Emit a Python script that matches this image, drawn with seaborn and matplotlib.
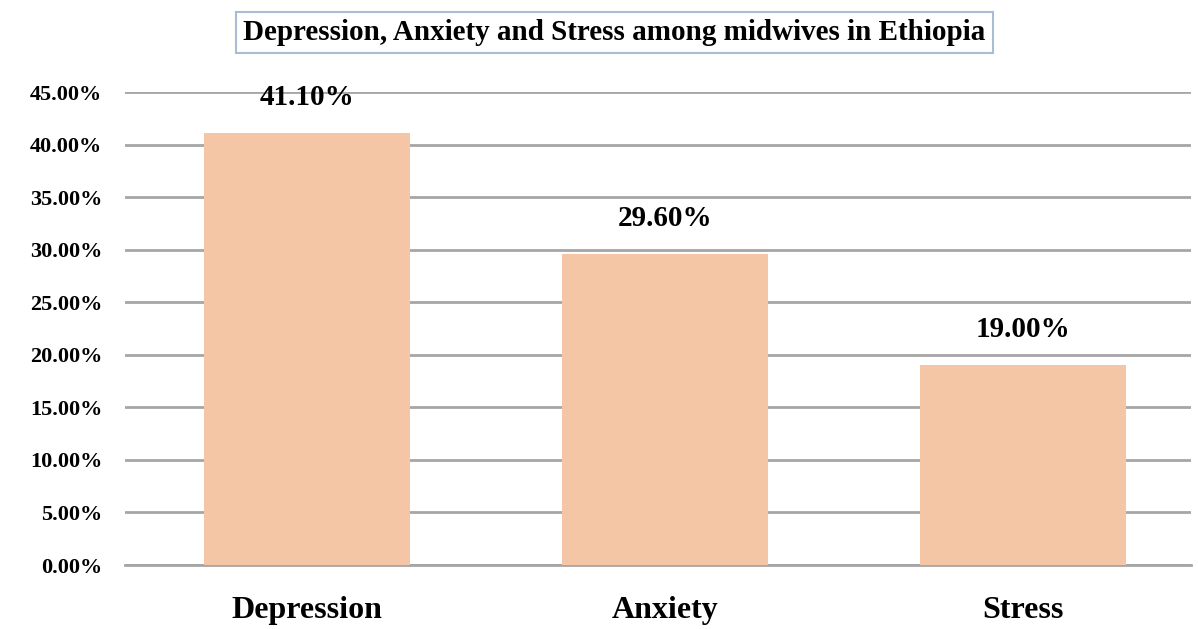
import matplotlib
matplotlib.use("Agg")
import matplotlib.pyplot as plt
import seaborn as sns
import pandas as pd
from matplotlib.ticker import PercentFormatter

# data
categories = ["Depression", "Anxiety", "Stress"]
prevalence = [41.10, 29.60, 19.00]
y_ticks = [0, 5, 10, 15, 20, 25, 30, 35, 40, 45]

df = pd.DataFrame({"Condition": categories, "Prevalence": prevalence})

sns.set_style("white")
plt.rcParams["font.family"] = ["Liberation Serif", "DejaVu Serif"]
plt.rcParams["font.weight"] = "bold"
plt.rcParams["text.color"] = "black"
plt.rcParams["xtick.color"] = "black"
plt.rcParams["ytick.color"] = "black"

fig = plt.figure(figsize=(11.98, 6.29), dpi=100)
ax = fig.add_axes([0.104, 0.1017, 0.89, 0.752])

sns.barplot(data=df, x="Condition", y="Prevalence", color="#F5C6A5",
            saturation=1, width=0.575, edgecolor="none", linewidth=0,
            ax=ax, zorder=3)

ax.set_ylim(0, 45)
ax.set_xlim(-0.51, 2.47)
ax.set_yticks(y_ticks)
ax.yaxis.set_major_formatter(PercentFormatter(decimals=2))
ax.grid(axis="y", color="#A6A6A6", linewidth=2, zorder=0)
ax.set_axisbelow(True)

for side in ["top", "right", "left"]:
    ax.spines[side].set_visible(False)
ax.spines["bottom"].set_color("#A6A6A6")
ax.spines["bottom"].set_linewidth(2)

ax.set_xlabel("")
ax.set_ylabel("")
ax.tick_params(axis="y", length=0, pad=16, labelsize=16)
ax.tick_params(axis="x", length=0, pad=22, labelsize=23)
for lbl in ax.get_xticklabels() + ax.get_yticklabels():
    lbl.set_fontweight("bold")

# value labels above each bar
for i, v in enumerate(prevalence):
    ax.annotate(f"{v:.2f}%", xy=(i, v), xytext=(0, 16), textcoords="offset points",
                ha="center", va="bottom", fontsize=21, fontweight="bold")

# boxed title
fig.text(0.513, 0.948, "Depression, Anxiety and Stress among midwives in Ethiopia",
         ha="center", va="center", fontsize=21, fontweight="bold",
         bbox=dict(boxstyle="square,pad=0.25", facecolor="white",
                   edgecolor="#A9BCD4", linewidth=1.5))

plt.savefig("out.png", dpi=100)
